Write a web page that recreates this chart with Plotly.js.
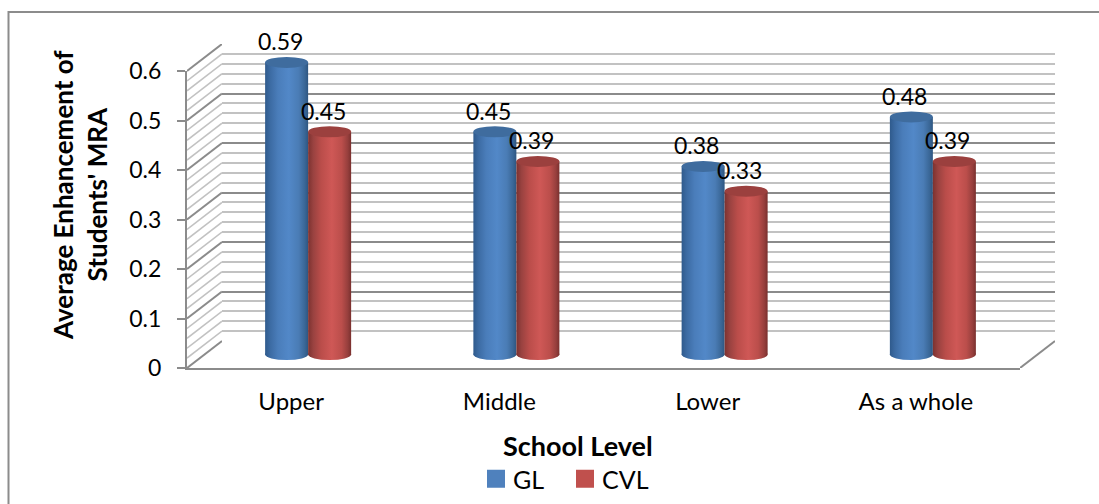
<!DOCTYPE html>
<html><head><meta charset="utf-8">
<script src="https://cdn.plot.ly/plotly-3.0.1.min.js"></script>
<style>html,body{margin:0;padding:0;background:#fff}#c{width:1099px;height:504px}</style>
</head><body><div id="c"></div>
<script>
const categories = ['Upper', 'Middle', 'Lower', 'As a whole'];
const seriesNames = ['GL', 'CVL'];
const glValues = [0.59, 0.45, 0.38, 0.48];
const cvlValues = [0.45, 0.39, 0.33, 0.39];
const majorTicks = [0, 0.1, 0.2, 0.3, 0.4, 0.5, 0.6];
const minorTicks = [0.02,0.04,0.06,0.08,0.12,0.14,0.16,0.18,0.22,0.24,0.26,0.28,0.32,0.34,0.36,0.38,0.42,0.44,0.46,0.48,0.52,0.54,0.56,0.58];
const tickLabels = ['0', '0.1', '0.2', '0.3', '0.4', '0.5', '0.6'];

const W = 1099, H = 504, font = 'Lato, "Open Sans", sans-serif';
const dx = v => v / W, dy = v => 1 - v / H;
const unit = 495, depth = 27 / unit;
const barW = 0.2065, capH = 11 / unit;
const majorC = '#8b8b8b', minorC = '#c2c2c2';

function diag(ticks) {
  const x = [], y = [];
  ticks.forEach(v => { x.push(0, 1, null); y.push(v, v + depth, null); });
  return {x, y};
}
const hidden = {type:'scatter', mode:'lines', showlegend:false, hoverinfo:'skip', line:{width:0}};
const traces = [
  Object.assign({}, hidden, {x:[0], y:[0], xaxis:'x', yaxis:'y'}),
  Object.assign({}, hidden, {x:[0], y:[0], xaxis:'x2', yaxis:'y2'}),
  {type:'bar', name:seriesNames[0], x:categories, y:glValues, xaxis:'x3', yaxis:'y3', marker:{color:'#4f81bd'}, hoverinfo:'skip'},
  {type:'bar', name:seriesNames[1], x:categories, y:cvlValues, xaxis:'x3', yaxis:'y3', marker:{color:'#c0504d'}, hoverinfo:'skip'},
  Object.assign({type:'scatter', mode:'lines', xaxis:'x4', yaxis:'y4', showlegend:false, hoverinfo:'skip', line:{color:minorC, width:1.6}}, diag(minorTicks)),
  Object.assign({type:'scatter', mode:'lines', xaxis:'x4', yaxis:'y4', showlegend:false, hoverinfo:'skip', line:{color:majorC, width:2}}, diag(majorTicks)),
  Object.assign({type:'scatter', mode:'lines', xaxis:'x5', yaxis:'y4', showlegend:false, hoverinfo:'skip', line:{color:majorC, width:2}}, diag([0]))
];

const shapes = [{type:'path', layer:'below', xref:'paper', yref:'paper',
  path:`M ${dx(8.5)} 0 L ${dx(8.5)} ${dy(12)} L 1 ${dy(12)}`, line:{color:'#8c8c8c', width:2}}];
const fills = {};
[[glValues, -barW/2, 'gBlue', '#3f6c9e'], [cvlValues, barW/2, 'gRed', '#9b403e']].forEach(([vals, off, grad, top]) => {
  vals.forEach((v, i) => {
    fills[shapes.length] = grad;
    shapes.push({type:'circle', xref:'x3', yref:'y3', x0:i+off-barW/2, x1:i+off+barW/2, y0:-capH/2, y1:capH/2, line:{width:0}, fillcolor:'#888'});
    shapes.push({type:'circle', xref:'x3', yref:'y3', x0:i+off-barW/2, x1:i+off+barW/2, y0:v-capH/2, y1:v+capH/2, line:{width:0}, fillcolor:top});
  });
});

const annotations = [];
[[glValues, -barW/2], [cvlValues, barW/2]].forEach(([vals, off]) => vals.forEach((v, i) => {
  annotations.push({xref:'x3', yref:'y3', x:i+off, y:v, text:v.toFixed(2), showarrow:false, xshift:-6.5, yshift:21, font:{family:font, size:23, color:'#000'}});
}));
annotations.push({xref:'paper', yref:'paper', x:dx(578), y:dy(445), xanchor:'center', yanchor:'middle', text:'School Level', showarrow:false, font:{family:font, size:27, color:'#000', weight:700}});
annotations.push({xref:'paper', yref:'paper', x:dx(80), y:dy(195), xanchor:'center', yanchor:'middle', text:"Average Enhancement of<br>Students' MRA", textangle:-90, showarrow:false, font:{family:font, size:26, color:'#000', weight:700}});

const layout = {
  width:W, height:H, margin:{l:0,r:0,t:0,b:0}, paper_bgcolor:'#fff', plot_bgcolor:'rgba(0,0,0,0)',
  barmode:'group', bargap:0.587, bargroupgap:0, shapes, annotations,
  showlegend:true,
  legend:{orientation:'h', x:dx(473), xanchor:'left', y:dy(450), yanchor:'top', font:{family:font, size:25, color:'#000'}, bgcolor:'rgba(0,0,0,0)', traceorder:'normal', entrywidth:44, entrywidthmode:'pixels'},
  xaxis:{domain:[dx(187),dx(1020)], range:[-0.5,3.5], anchor:'y', tickmode:'array', tickvals:[0,1,2,3], ticktext:categories, ticks:'', showgrid:false, zeroline:false, showline:true, linecolor:majorC, linewidth:2, tickfont:{family:font,size:24,color:'#000'}, ticklabelstandoff:11},
  yaxis:{domain:[dy(368),dy(71)], range:[0,0.6], anchor:'x', tickmode:'array', tickvals:majorTicks, ticktext:tickLabels, ticks:'outside', ticklen:8, tickwidth:2, tickcolor:majorC, showgrid:false, zeroline:false, showline:true, linecolor:majorC, linewidth:2, tickfont:{family:font,size:23,color:'#000'}, ticklabelstandoff:11},
  xaxis2:{domain:[dx(222),dx(1055)], range:[0,1], anchor:'y2', showticklabels:false, ticks:'', showgrid:false, zeroline:false},
  yaxis2:{domain:[dy(341),dy(44)], range:[0,0.6], anchor:'x2', showticklabels:false, ticks:'', zeroline:false, tickmode:'array', tickvals:majorTicks, showgrid:true, gridcolor:majorC, gridwidth:2,
    minor:{tickmode:'array', tickvals:minorTicks, showgrid:true, gridcolor:minorC, gridwidth:2, ticks:''}},
  xaxis3:{domain:[dx(204),dx(1037)], range:[-0.5,3.5], type:'category', categoryorder:'array', categoryarray:categories, anchor:'y3', showticklabels:false, ticks:'', showgrid:false, zeroline:false},
  yaxis3:{domain:[dy(354.5+0.03*unit),dy(354.5-0.65*unit)], range:[-0.03,0.65], anchor:'x3', showticklabels:false, ticks:'', showgrid:false, zeroline:false},
  xaxis4:{domain:[dx(187),dx(222)], range:[0,1], anchor:'y4', showticklabels:false, ticks:'', showgrid:false, zeroline:false},
  yaxis4:{domain:[dy(368),dy(368-0.6*unit-27)], range:[0,0.6+depth], anchor:'x4', showticklabels:false, ticks:'', showgrid:false, zeroline:false},
  xaxis5:{domain:[dx(1020),dx(1055)], range:[0,1], anchor:'y4', showticklabels:false, ticks:'', showgrid:false, zeroline:false}
};

Plotly.newPlot('c', traces, layout, {displayModeBar:false, staticPlot:true}).then(gd => {
  const svg = gd.querySelector('svg.main-svg');
  const NS = 'http://www.w3.org/2000/svg';
  const defs = svg.querySelector('defs');
  const mk = (id, stops) => {
    const g = document.createElementNS(NS, 'linearGradient');
    g.setAttribute('id', id);
    stops.forEach(([o, c]) => { const s = document.createElementNS(NS, 'stop'); s.setAttribute('offset', o); s.setAttribute('stop-color', c); g.appendChild(s); });
    defs.appendChild(g);
  };
  mk('gBlue', [[0,'#2f5a8c'],[0.12,'#3c6ba3'],[0.3,'#4a7dba'],[0.55,'#5288c8'],[0.78,'#4a7cb5'],[0.92,'#3a6797'],[1,'#2e5681']]);
  mk('gRed', [[0,'#7c3230'],[0.12,'#994240'],[0.3,'#ba4d4a'],[0.55,'#cf5856'],[0.78,'#bb4e4b'],[0.92,'#973f3d'],[1,'#7a302e']]);
  gd.querySelectorAll('.barlayer .trace').forEach((t, k) => t.querySelectorAll('path').forEach(p => p.style.fill = `url(#${k ? 'gRed' : 'gBlue'})`));
  gd.querySelectorAll('.layer-above .shapelayer path').forEach(p => {
    const g = fills[+p.getAttribute('data-index')];
    if (g) p.style.fill = `url(#${g})`;
  });
  gd.querySelectorAll('.legend .legendpoints path').forEach(p => p.setAttribute('transform', 'translate(23,0) scale(1.5)'));
  const lg = gd.querySelector('.legend');
  const m = /translate\(([-\d.]+)[ ,]+([-\d.]+)\)/.exec(lg.getAttribute('transform') || '');
  if (m) lg.setAttribute('transform', `translate(${m[1]},${+m[2] + 6})`);
});
</script></body></html>
